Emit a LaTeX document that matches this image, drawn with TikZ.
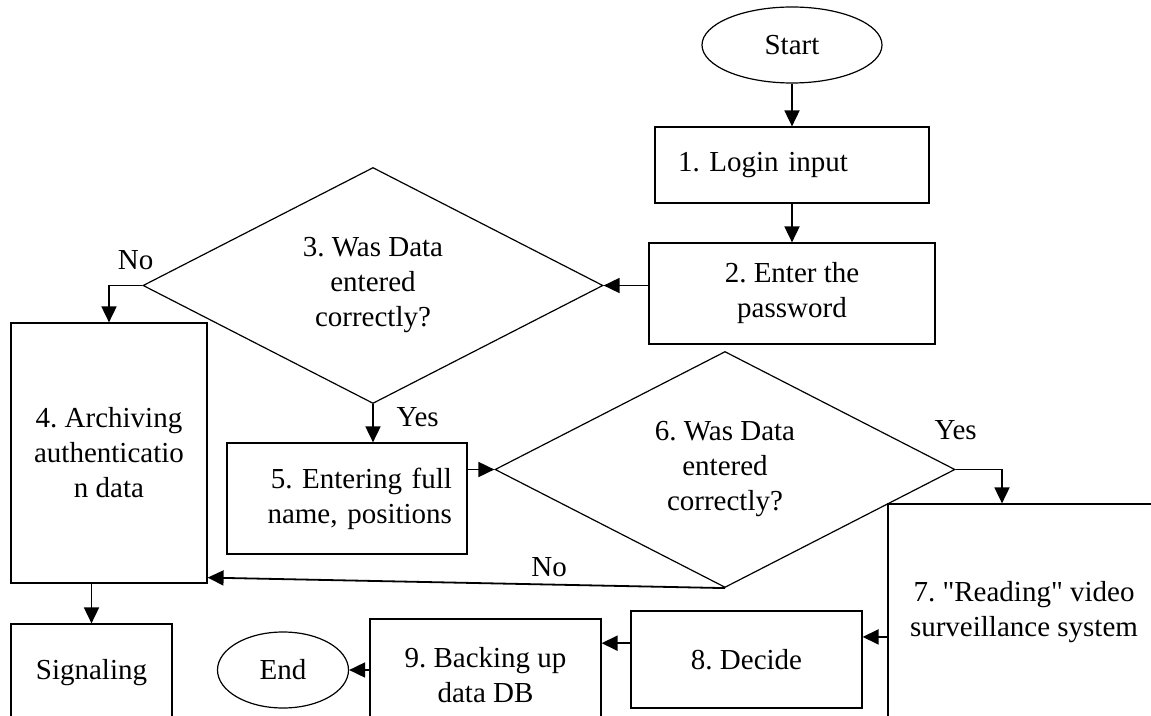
\documentclass[tikz,border=0pt]{standalone}
\usepackage{fontspec}
\setmainfont{Liberation Serif}[Ligatures=TeXOff]
\usetikzlibrary{shapes.geometric,arrows.meta,positioning}

\begin{document}
\frenchspacing
\begin{tikzpicture}[x=0.5pt, y=-0.5pt, font=\fontsize{14.5}{17.5}\selectfont]
    % Define styles
    \tikzstyle{block} = [rectangle, draw, line width=0.6pt, align=center]
    \tikzstyle{term} = [ellipse, draw, line width=0.6pt, inner sep=0pt]
    \tikzstyle{decision} = [diamond, draw, line width=0.6pt, aspect=2, inner sep=0pt, align=center, minimum width=230pt, minimum height=118pt]
    \tikzstyle{line} = [draw, line width=0.9pt, -{Triangle[length=8pt, width=7.5pt]}]

    \useasboundingbox (0,0) rectangle (1151,716);
    \clip (0,0) rectangle (1151,716);

    % Place nodes
    \node [term, minimum width=90pt, minimum height=38pt] (start) at (792,45) {Start};
    \node [block, below of=start, node distance=60pt, minimum width=137pt, minimum height=38pt, text width=114pt, align=left] (login) {1. Login input};
    \node [block, below of=login, node distance=64.25pt, minimum width=143pt, minimum height=50.5pt] (password) {2. Enter the\\password};
    \node [decision] (check1) at (373,285.5) {3. Was Data\\entered\\correctly?};
    \node [block, minimum width=98pt, minimum height=130pt] (archive) at (109,453) {4. Archiving\\authenticatio\\n data};
    \node [block, minimum width=80.5pt, minimum height=49pt] (signal) at (91.5,673) {Signaling};
    \node [block, minimum width=120pt, minimum height=55.5pt, text width=105pt, align=right] (fullname) at (347,498.5) {5. Entering full\\name, positions};
    \node [decision] (check2) at (725,469.5) {6. Was Data\\entered\\correctly?};
    \node [block, minimum width=136pt, minimum height=108pt] (reading) at (1024,612) {7. "Reading" video\\surveillance system};
    \node [block, minimum width=115.5pt, minimum height=48.5pt] (decide) at (746.5,659.5) {8. Decide};
    \node [block, minimum width=115.5pt, minimum height=56pt] (backup) at (485.5,675) {9. Backing up\\data DB};
    \node [term, minimum width=65.5pt, minimum height=38pt] (end) at (283,670) {End};

    % Draw edges
    \path [line] (start) -- (login);
    \path [line] (login) -- (password);
    \path [line] (password.west |- check1.east) -- (check1.east);
    \path [line] (check1.west) -| node [pos=0.1, above=4.3pt] {No} (archive.north);
    \path [line] (signal.north |- archive.south) -- (signal.north);
    \path [line] (check1.south) -- node [pos=0.33, right=8pt] {Yes} (check1.south |- fullname.north);
    \path [line] (fullname.east |- check2.west) -- (check2.west);
    \path [line] (check2.east) -| node [pos=0, above=11.3pt] {Yes} ([xshift=-11pt]reading.north);
    \path [line] (check2.south) -- node [pos=0.34, above] {No} ([yshift=3pt]archive.south east);
    \path [line] (reading.west |- decide.11.5) -- (decide.11.5);
    \path [line] (decide.172.8) -- (decide.172.8 -| backup.east);
    \path [line] (backup.west |- end.east) -- (end.east);
\end{tikzpicture}
\end{document}
